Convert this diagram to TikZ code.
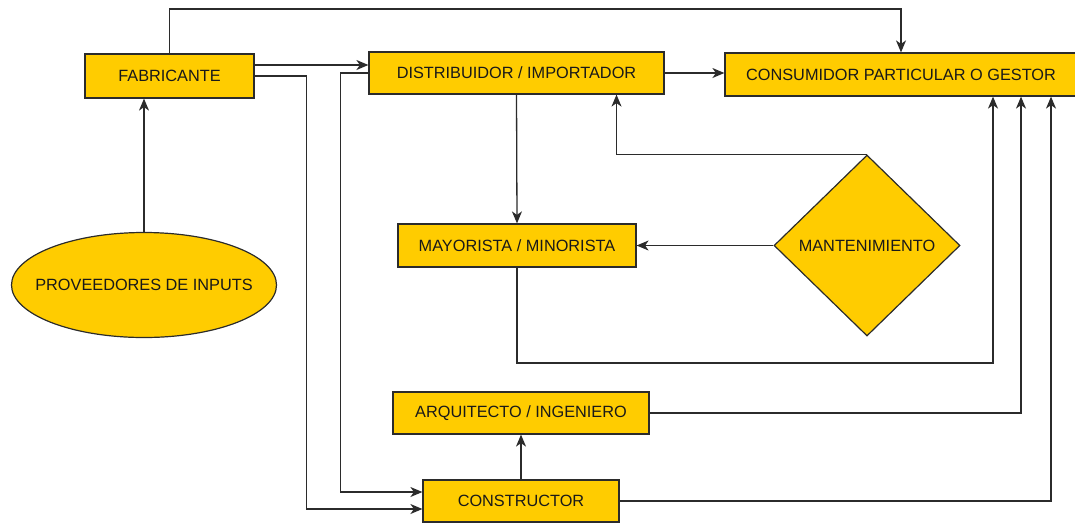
\documentclass[tikz,border=0pt]{standalone}
\usepackage{fontspec}
\setmainfont{Liberation Sans}
\usetikzlibrary{positioning,shapes.geometric,arrows.meta}
\definecolor{oro}{HTML}{FFCC00}
\definecolor{borde}{HTML}{2B2B2B}
\tikzset{
  caja/.style={draw=borde, fill=oro, line width=1.2pt, rectangle, inner sep=0pt,
    text=black!90, font=\fontsize{16.3}{19}\selectfont},
  flecha/.style={draw=borde, line width=1.3pt, -{Stealth[length=12pt,width=10pt,inset=3.5pt]}},
}

\begin{document}
\begin{tikzpicture}[x=1pt,y=-1pt]
        \useasboundingbox (0,0) rectangle (1075,523);

        \node[caja, minimum width=169pt, minimum height=44pt] (fab) at (169.5,76) {FABRICANTE};
        \node[caja, minimum width=295pt, minimum height=42pt] (dist) at (516.5,73) {DISTRIBUIDOR / IMPORTADOR};
        \node[caja, minimum width=352pt, minimum height=43pt] (cons) at (901,74.5) {CONSUMIDOR PARTICULAR O GESTOR};
        \node[caja, ellipse, inner xsep=-25pt, minimum width=265pt, minimum height=105pt] (prov) at (144,285) {PROVEEDORES DE INPUTS};
        \node[caja, minimum width=238pt, minimum height=43pt] (may) at (517,245.5) {MAYORISTA / MINORISTA};
        \node[caja, diamond, minimum width=186pt, minimum height=181pt] (mant) at (867,245.5) {MANTENIMIENTO};
        \node[caja, minimum width=256pt, minimum height=42pt] (arq) at (521,413) {ARQUITECTO / INGENIERO};
        \node[caja, minimum width=196pt, minimum height=42pt] (constr) at (521,501) {CONSTRUCTOR};

        \draw[flecha] (prov.north) -- (prov.north |- fab.south);
        \draw[flecha] (fab.north) -- ++(0,-44.5) -| (cons.north);
        \draw[flecha] ([yshift=11pt]fab.east) -- ([yshift=11pt]fab.east -| dist.west);
        \draw[flecha] (fab.east) -- ++(52,0) |- ([yshift=-8pt]constr.west);
        \draw[flecha] (dist.west) -- ++(-28,0) |- ([yshift=9pt]constr.west);
        \draw[flecha] (dist.east) -- (dist.east -| cons.west);
        \draw[flecha] (dist.south) -- (may.north);
        \draw[flecha] (mant.north) -| ([xshift=100pt]dist.south);
        \draw[flecha] (mant.west) -- (mant.west -| may.east);
        \draw[flecha] (may.south) -- ++(0,95.5) -| ([xshift=92pt]cons.south);
        \draw[flecha] (arq.east) -| ([xshift=120pt]cons.south);
        \draw[flecha] (constr.east) -| ([xshift=150pt]cons.south);
        \draw[flecha] (constr.north) -- (arq.south);
\end{tikzpicture}
\end{document}
